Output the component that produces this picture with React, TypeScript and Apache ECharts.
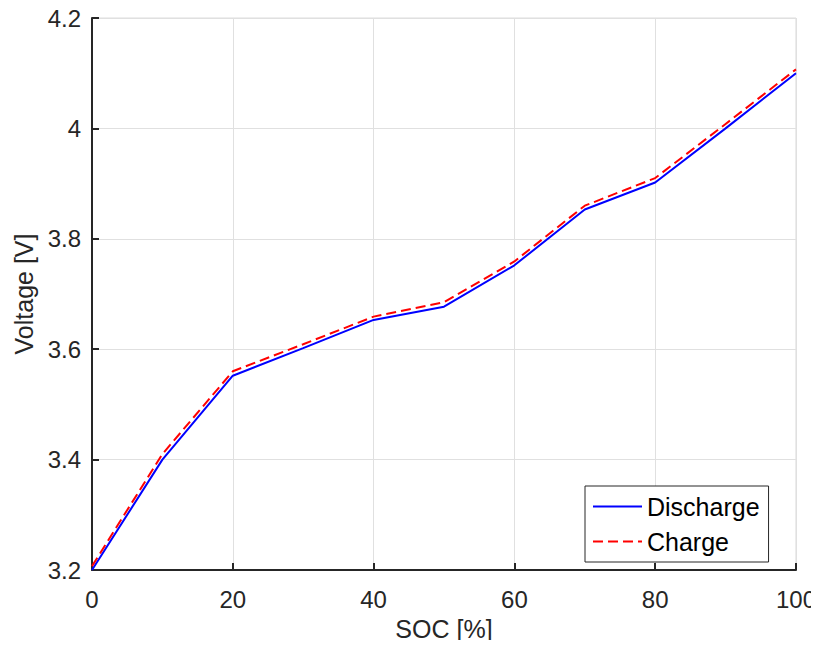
import React, { useEffect, useRef } from "react";
import * as echarts from "echarts";

const soc = [0, 10, 20, 30, 40, 50, 60, 70, 80, 90, 100];
const discharge = [3.2, 3.4, 3.552, 3.602, 3.653, 3.677, 3.752, 3.853, 3.902, 4.0, 4.1];
const charge = [3.207, 3.41, 3.56, 3.609, 3.659, 3.685, 3.759, 3.86, 3.91, 4.008, 4.107];
const xTicks = { min: 0, max: 100, interval: 20 };
const yTicks = { min: 3.2, max: 4.2, interval: 0.2 };

const FONT = "'Liberation Sans', Arial, sans-serif";
const DARK = "#262626";

export default function App() {
  const ref = useRef<HTMLDivElement>(null);
  useEffect(() => {
    if (!ref.current) return;
    const chart = echarts.init(ref.current, undefined, { renderer: "svg" });
    chart.setOption({
      animation: false,
      backgroundColor: "#ffffff",
      textStyle: { fontFamily: FONT },
      grid: {
        left: 92,
        right: 23,
        top: 18,
        bottom: 78,
        show: true,
        borderColor: "#dcdcdc",
        borderWidth: 1,
        backgroundColor: "transparent",
      },
      legend: {
        left: 585,
        top: 486,
        orient: "vertical",
        itemWidth: 49,
        itemHeight: 25,
        itemGap: 10,
        padding: [8, 9, 8, 7],
        backgroundColor: "#ffffff",
        borderColor: DARK,
        borderWidth: 1,
        borderRadius: 0,
        itemStyle: { opacity: 0 },
        textStyle: { fontSize: 25, color: "#000", fontFamily: FONT },
        data: ["Discharge", "Charge"],
      },
      xAxis: {
        type: "value",
        min: xTicks.min,
        max: xTicks.max,
        interval: xTicks.interval,
        name: "SOC [%]",
        nameLocation: "middle",
        nameGap: 46,
        nameTextStyle: { fontSize: 25, color: DARK, fontFamily: FONT },
        axisLine: { show: true, onZero: false, lineStyle: { color: DARK, width: 2 } },
        axisTick: { show: true, inside: true, length: 7, lineStyle: { color: DARK, width: 2 } },
        axisLabel: { fontSize: 24, color: DARK, margin: 17, fontFamily: FONT },
        splitLine: { show: true, lineStyle: { color: "#e0e0e0", width: 1 } },
      },
      yAxis: {
        type: "value",
        min: yTicks.min,
        max: yTicks.max,
        interval: yTicks.interval,
        name: "Voltage [V]",
        nameLocation: "middle",
        nameGap: 56,
        nameTextStyle: { fontSize: 25, color: DARK, fontFamily: FONT },
        axisLine: { show: true, onZero: false, lineStyle: { color: DARK, width: 2 } },
        axisTick: { show: true, inside: true, length: 7, lineStyle: { color: DARK, width: 2 } },
        axisLabel: {
          fontSize: 24,
          color: DARK,
          margin: 11,
          fontFamily: FONT,
          formatter: (v: number) => String(Number(v.toFixed(1))),
        },
        splitLine: { show: true, lineStyle: { color: "#e0e0e0", width: 1 } },
      },
      series: [
        {
          name: "Discharge",
          type: "line",
          data: soc.map((s, i) => [s, discharge[i]]),
          symbol: "none",
          lineStyle: { color: "#0000ff", width: 2 },
          itemStyle: { color: "#0000ff" },
          z: 3,
        },
        {
          name: "Charge",
          type: "line",
          data: soc.map((s, i) => [s, charge[i]]),
          symbol: "none",
          lineStyle: { color: "#ff0000", width: 2, type: [10, 5] },
          itemStyle: { color: "#ff0000" },
          z: 4,
        },
      ],
    });
    return () => chart.dispose();
  }, []);
  return <div ref={ref} style={{ width: 819, height: 648, margin: -8 }} />;
}
